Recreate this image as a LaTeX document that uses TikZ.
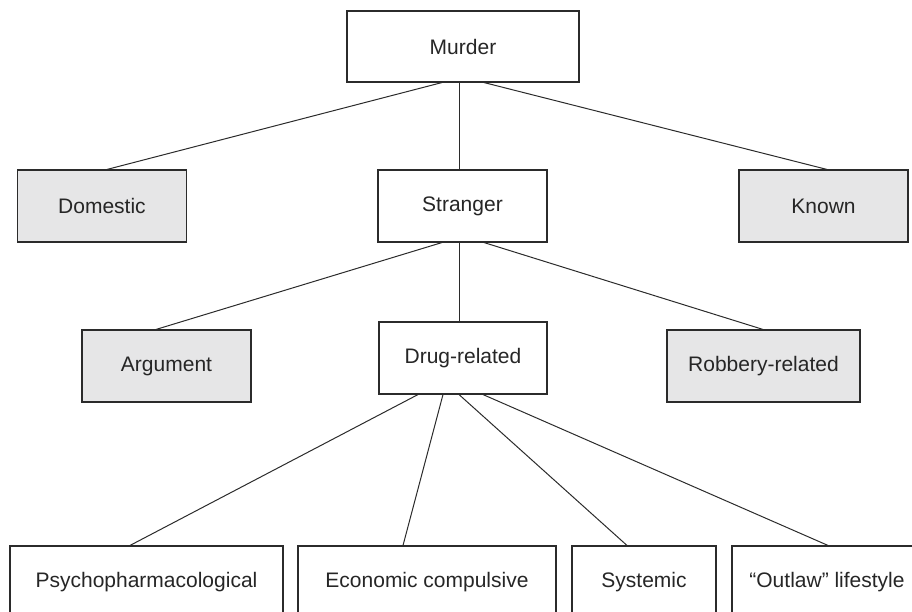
\documentclass[tikz,border=0pt]{standalone}
\usepackage{fontspec}
\setmainfont{Liberation Sans}
\definecolor{boxline}{HTML}{2B2B2B}
\definecolor{shade}{HTML}{E6E6E7}
\begin{document}
\begin{tikzpicture}[x=1pt,y=-1pt,
  box/.style={draw=boxline,line width=1.1pt,fill=white,inner sep=0pt,
    minimum height=72pt,text=black!85,font=\fontsize{21}{25}\selectfont},
  grey/.style={box,fill=shade},
  link/.style={draw=boxline,line width=1pt}]
\useasboundingbox (0,0) rectangle (912,612);
\clip (0,0) rectangle (912,612);

% top level
\node[box,minimum width=232pt,minimum height=71pt] (murder) at (463,46.5) {Murder};

% second level
\node[grey,minimum width=169pt] (domestic) at (102,206) {Domestic};
\node[box,minimum width=169pt] (stranger) at (462.5,206) {Stranger};
\node[grey,minimum width=169pt] (known) at (823.5,206) {Known};

% third level
\node[grey,minimum width=169pt] (argument) at (166.5,366) {Argument};
\node[box,minimum width=168pt] (drug) at (463,358) {Drug-related};
\node[grey,minimum width=193pt] (robbery) at (763.5,366) {Robbery-related};

% bottom level
\node[box,minimum width=273pt] (psycho) at (146.5,582) {Psychopharmacological};
\node[box,minimum width=258pt] (economic) at (427,582) {Economic compulsive};
\node[box,minimum width=144pt] (systemic) at (644,582) {Systemic};
\node[box,minimum width=190pt] (outlaw) at (827,582) {``Outlaw'' lifestyle};

% connectors
\draw[link] ([xshift=-21pt]murder.south) -- ([xshift=5pt]domestic.north);
\draw[link] ([xshift=-4pt]murder.south) -- ([xshift=-3.5pt]stranger.north);
\draw[link] ([xshift=21pt]murder.south) -- ([xshift=3.5pt]known.north);

\draw[link] ([xshift=-20.5pt]stranger.south) -- ([xshift=-10.5pt]argument.north);
\draw[link] ([xshift=-3.5pt]stranger.south) -- ([xshift=-4pt]drug.north);
\draw[link] ([xshift=21.5pt]stranger.south) -- ([xshift=-0.5pt]robbery.north);

\draw[link] ([xshift=-45pt]drug.south) -- ([xshift=-16.5pt]psycho.north);
\draw[link] ([xshift=-20pt]drug.south) -- ([xshift=-24pt]economic.north);
\draw[link] ([xshift=-4pt]drug.south) -- ([xshift=-17pt]systemic.north);
\draw[link] ([xshift=20pt]drug.south) -- ([xshift=1pt]outlaw.north);
\end{tikzpicture}
\end{document}
